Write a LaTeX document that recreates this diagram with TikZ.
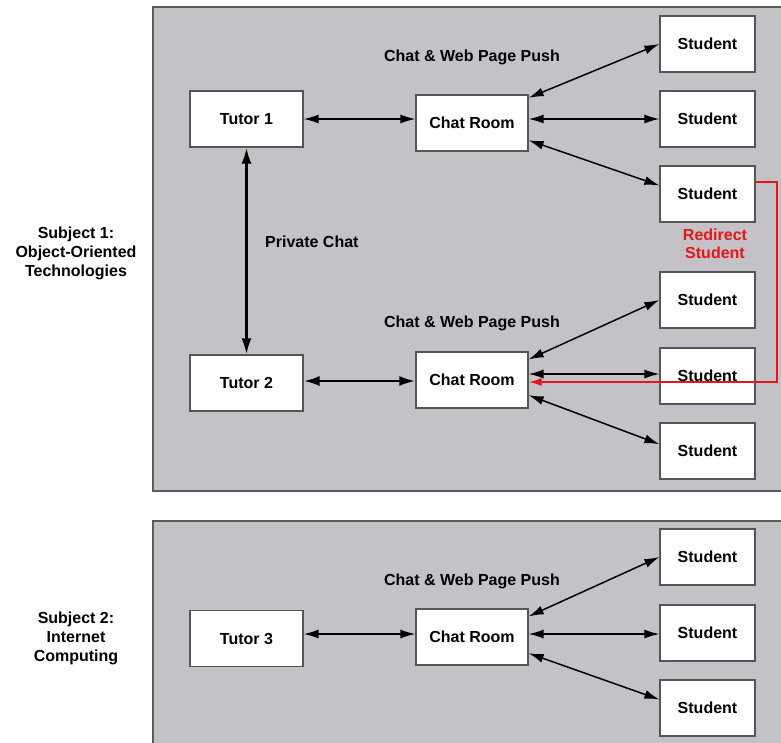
\documentclass[tikz,border=0pt]{standalone}
\usepackage{fontspec}
\setmainfont{Liberation Sans}
\usetikzlibrary{arrows.meta}
\definecolor{panelgray}{HTML}{C4C2C6}
\definecolor{panelborder}{HTML}{5C5C5C}
\definecolor{boxborder}{HTML}{555555}
\definecolor{redir}{HTML}{E8141A}
\begin{document}
\begin{tikzpicture}[x=1pt,y=-1pt,
  panel/.style={fill=panelgray, draw=panelborder, line width=1.2pt},
  txt/.style={font=\bfseries\fontsize{16}{19}\selectfont},
  box/.style={draw=boxborder, fill=white, line width=1.2pt, inner sep=0pt,
    minimum width=113pt, minimum height=56pt, txt},
  chatbox/.style={box, minimum width=112pt},
  studbox/.style={box, minimum width=95pt},
  lbl/.style={txt, inner sep=0pt},
  sublbl/.style={txt, align=center, inner sep=0pt},
  link/.style={{Latex[length=15pt,width=9pt]}-{Latex[length=15pt,width=9pt]}, line width=1.5pt},
  thicklink/.style={{Latex[length=16pt,width=10pt]}-{Latex[length=16pt,width=10pt]}, line width=2.6pt},
  redlink/.style={-{Latex[length=13pt,width=8pt]}, draw=redir, line width=2pt}
]
\useasboundingbox (0,0) rectangle (781,742);
\clip (0,0) rectangle (781,742);
\fill[white] (0,0) rectangle (781,742);

% panels
\draw[panel] (153,7) rectangle (800,491);
\draw[panel] (153,521) rectangle (800,760);

% subject labels
\node[sublbl] (subj1) at (76,253) {Subject 1:\\Object-Oriented\\Technologies};
\node[sublbl] (subj2) at (76,638) {Subject 2:\\Internet\\Computing};

% subject 1 nodes
\node[box] (t1) at (246.5,119) {Tutor 1};
\node[box] (t2) at (246.5,383) {Tutor 2};
\node[chatbox] (c1) at (472,123) {Chat Room};
\node[chatbox] (c2) at (472,380) {Chat Room};
\node[studbox] (s1) at (707.5,44) {Student};
\node[studbox] (s2) at (707.5,119) {Student};
\node[studbox] (s3) at (707.5,194) {Student};
\node[studbox] (s4) at (707.5,300) {Student};
\node[studbox] (s5) at (707.5,376) {Student};
\node[studbox] (s6) at (707.5,451) {Student};

% subject 2 nodes
\node[box] (t3) at (246.5,638.5) {Tutor 3};
\node[chatbox] (c3) at (472,637) {Chat Room};
\node[studbox] (sa) at (707.5,557) {Student};
\node[studbox] (sb) at (707.5,633) {Student};
\node[studbox] (sc) at (707.5,708) {Student};

% labels
\node[lbl] (push1) at (472,57) {Chat \& Web Page Push};
\node[lbl] (push2) at (472,323) {Chat \& Web Page Push};
\node[lbl] (push3) at (472,581) {Chat \& Web Page Push};
\node[lbl, anchor=west] (priv) at (265,242) {Private Chat};
\node[lbl, text=redir, align=center, font=\bfseries\fontsize{16}{18}\selectfont] (redirlbl) at (715,244) {Redirect\\Student};

% subject 1 connectors
\draw[link] (t1.east) -- (t1.east -| c1.west);
\draw[thicklink] (t2.east |- 0,381) -- (c2.west |- 0,381);
\draw[thicklink] (t1.south) -- (t2.north);
\draw[link] (c1.24) -- (s1.west);
\draw[link] (c1.east |- s2.west) -- (s2.west);
\draw[link] (c1.-17) -- (s3.170);
\draw[link] (c2.20) -- (s4.west);
\draw[link] (c2.east |- 0,374) -- (s5.west |- 0,374);
\draw[link] (c2.-15) -- (s6.172);

% redirect
\coordinate (r1) at (777,182);
\coordinate (r2) at (777,382);
\draw[redlink] (s3.east |- r1) -- (r1) -- (r2) -- (c2.east |- r2);

% subject 2 connectors
\draw[link] (t3.east |- 0,634) -- (c3.west |- 0,634);
\draw[link] (c3.20) -- (sa.west);
\draw[link] (c3.east |- 0,634) -- (sb.west |- 0,634);
\draw[link] (c3.-16) -- (sc.170);
\end{tikzpicture}
\end{document}
